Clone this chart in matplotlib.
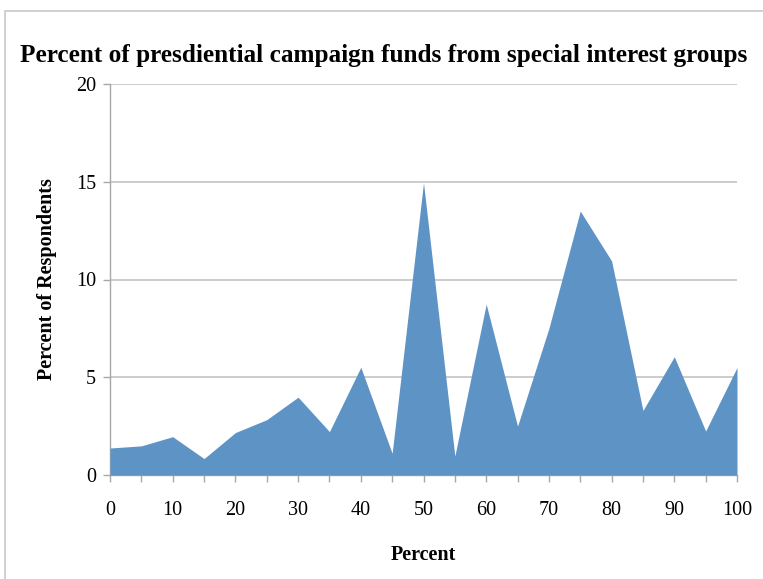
import matplotlib.pyplot as plt
from matplotlib.patches import Rectangle

plt.rcParams['font.family'] = ['Liberation Serif', 'DejaVu Serif']

# share of campaign funds (x) vs. percent of respondents (y)
percent = [0, 5, 10, 15, 20, 25, 30, 35, 40, 45, 50, 55, 60, 65, 70, 75, 80, 85, 90, 95, 100]
respondents = [1.38, 1.49, 1.96, 0.84, 2.17, 2.83, 3.98, 2.22, 5.51, 1.11, 14.95,
               0.97, 8.74, 2.5, 7.5, 13.5, 10.95, 3.3, 6.05, 2.25, 5.5]
y_ticks = [0, 5, 10, 15, 20]

W, H = 763, 579
fig = plt.figure(figsize=(W / 100, H / 100), dpi=100)
ax = fig.add_axes([110 / W, 1 - 475 / H, (737 - 110) / W, (475 - 84) / H])

# chart frame (only left and top edges fall inside the image)
fig.patches.append(Rectangle((5 / W, -0.1), 1.2, 1 - 11 / H + 0.1, transform=fig.transFigure,
                             fill=False, edgecolor='#c8c8c8', linewidth=1.2))

ax.fill_between(percent, respondents, 0, color='#5e93c6', linewidth=0, zorder=3)

ax.set_xlim(0, 100)
ax.set_ylim(0, 20)
ax.set_yticks(y_ticks)
ax.set_xticks(percent)
ax.set_xticklabels([str(p) if p % 10 == 0 else '' for p in percent])
ax.grid(axis='y', color='#c4c4c4', linewidth=1.2, zorder=1)

for side in ['top', 'right']:
    ax.spines[side].set_visible(False)
for side in ['left', 'bottom']:
    ax.spines[side].set_color('#a8a8a8')
    ax.spines[side].set_linewidth(1.0)
ax.tick_params(axis='both', colors='#a8a8a8', length=5, width=1.0, labelcolor='black',
               labelsize=14.5)
ax.tick_params(axis='x', pad=14)
ax.tick_params(axis='y', pad=5)

ax.set_xlabel('Percent', fontsize=14.5, fontweight='bold', labelpad=18)
ax.set_ylabel('Percent of Respondents', fontsize=14.5, fontweight='bold', labelpad=14)

fig.text(20 / W, 1 - 62 / H, 'Percent of presdiential campaign funds from special interest groups',
         fontsize=18.2, fontweight='bold', ha='left', va='baseline')

plt.savefig('out.png', dpi=100)
plt.close()
